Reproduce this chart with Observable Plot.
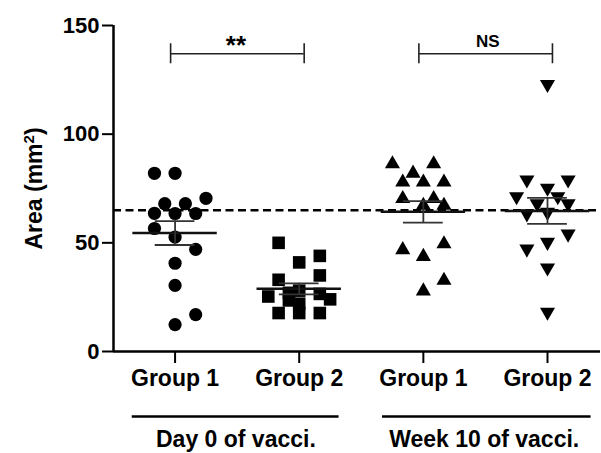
<!DOCTYPE html>
<html>
<head>
<meta charset="utf-8">
<script src="https://cdn.jsdelivr.net/npm/d3@7"></script>
<script src="https://cdn.jsdelivr.net/npm/@observablehq/plot@0.6"></script>
<style>
  html, body { margin: 0; padding: 0; background: #fff; }
  #chart { width: 601px; height: 453px; }
</style>
</head>
<body>
<div id="chart"></div>
<script>
// ---- data ----
const groupLabels = ["Group 1", "Group 2", "Group 1", "Group 2"];
const periodLabels = ["Day 0 of vacci.", "Week 10 of vacci."];
const yTicks = [0, 50, 100, 150];
const referenceLevel = 65;
const yLabelBase = "Area (mm";
const yLabelSup = "2";
const sigLabels = ["**", "NS"];

// values (mm²) and their lane (column) in the scatter
const day0Group1 = [82, 82, 70.5, 68, 68, 63.6, 63.5, 63.5, 56.6, 52.6, 47, 40.6, 30.4, 17, 12.4];
const day0Group1Lane = [-2, 0, 3, -1, 1, -2, 0, 2, -2, 0, 2, 0, 0, 2, 0];

const day0Group2 = [50, 44, 41, 35, 33, 28, 27, 26.5, 25.3, 24, 23.5, 22, 17.7, 17.7, 17.7];
const day0Group2Lane = [-2, 2, 0, 2, -2, 0, -1, 2, -3, 3, -1, 0, -2, 0, 2];

const week10Group1 = [86.3, 86.3, 82, 77.9, 77.9, 77.9, 70.3, 70.3, 67.2, 67.2, 46.8, 49.5, 43.7, 32.7, 27.8];
const week10Group1Lane = [-3, 1, -1, -2, 0, 2, -2, 1, 0, 2, -2, 2, 0, 2, 0];

const week10Group2 = [122.9, 79, 79, 75.2, 71.3, 71.3, 68, 68, 63.4, 64.1, 54.1, 47.2, 50.3, 38.5, 18.1];
const week10Group2Lane = [0, -2, 2, 0, -3, 1, -1, 2, -2, 0, 2, -2, 0, 0, 0];

// ---- build tables ----
const triangleDown = {
  draw(context, size) {
    const y = -Math.sqrt(size / (Math.sqrt(3) * 3));
    context.moveTo(0, -y * 2);
    context.lineTo(-Math.sqrt(3) * y, y);
    context.lineTo(Math.sqrt(3) * y, y);
    context.closePath();
  }
};
const groups = [
  {values: day0Group1, lanes: day0Group1Lane, symbol: "circle", r: 6.6},
  {values: day0Group2, lanes: day0Group2Lane, symbol: "square", r: 7.1},
  {values: week10Group1, lanes: week10Group1Lane, symbol: "triangle", r: 5.6},
  {values: week10Group2, lanes: week10Group2Lane, symbol: triangleDown, r: 5.6}
];
const laneWidth = 0.083;
const points = groups.map((gr, g) => gr.values.map((v, i) => ({g, value: v, x: g + gr.lanes[i] * laneWidth})));
const stats = groups.map((gr, g) => {
  const m = d3.mean(gr.values);
  const sem = d3.deviation(gr.values) / Math.sqrt(gr.values.length);
  return {g, mean: m, lo: m - sem, hi: m + sem};
});
const periods = [
  {label: periodLabels[0], x1: -0.345, x2: 1.321, cx: 0.49},
  {label: periodLabels[1], x1: 1.671, x2: 3.351, cx: 2.49}
];
const brackets = [
  {label: sigLabels[0], a: 0, b: 1, y: 137},
  {label: sigLabels[1], a: 2, b: 3, y: 137}
];

const font = "'Liberation Sans', Arial, Helvetica, sans-serif";

const marks = [
  Plot.ruleY([referenceLevel], {strokeDasharray: "8,4.5", strokeWidth: 2.5, stroke: "#000"}),
  ...groups.map((gr, g) => Plot.dot(points[g], {x: "x", y: "value", symbol: () => gr.symbol, r: gr.r, fill: "#000", stroke: "none"})),
  // mean
  Plot.ruleY(stats, {y: "mean", x1: d => d.g - 0.34, x2: d => d.g + 0.34, strokeWidth: 2.5, stroke: "#111"}),
  // SEM
  Plot.ruleX(stats, {x: "g", y1: "lo", y2: "hi", strokeWidth: 1.8, stroke: "#333"}),
  Plot.ruleY(stats, {y: "hi", x1: d => d.g - 0.16, x2: d => d.g + 0.16, strokeWidth: 1.8, stroke: "#333"}),
  Plot.ruleY(stats, {y: "lo", x1: d => d.g - 0.16, x2: d => d.g + 0.16, strokeWidth: 1.8, stroke: "#333"}),
  // axes lines
  Plot.ruleY([0], {strokeWidth: 2.5, stroke: "#000"}),
  Plot.ruleX([-0.496], {y1: 0, y2: 150, strokeWidth: 2.5, stroke: "#000"}),
  Plot.axisY({ticks: yTicks, tickSize: 11, tickPadding: 3, fontSize: 22, fontWeight: "bold", fontFamily: font, strokeWidth: 2, label: null}),
  Plot.axisX({ticks: [0, 1, 2, 3], tickFormat: i => groupLabels[i], tickSize: 12, tickPadding: 6, fontSize: 23, fontWeight: "bold", fontFamily: font, strokeWidth: 2, label: null}),
  // y label: base text, superscript, closing paren (rotated, stacked along the left margin)
  Plot.text([yLabelBase + yLabelSup + ")"], {text: d => d, frameAnchor: "left", dx: -79, rotate: -90, textAnchor: "middle", lineAnchor: "middle", fontSize: 23, fontWeight: "bold", fontFamily: font, fill: "#000"}),
  // significance brackets
  Plot.ruleY(brackets, {y: "y", x1: d => d.a - 0.036, x2: d => d.b + 0.04, strokeWidth: 1.6, stroke: "#222"}),
  Plot.ruleX(brackets, {x: d => d.a - 0.036, y1: d => d.y - 4.6, y2: d => d.y + 4.6, strokeWidth: 1.6, stroke: "#222"}),
  Plot.ruleX(brackets, {x: d => d.b + 0.04, y1: d => d.y - 4.6, y2: d => d.y + 4.6, strokeWidth: 1.6, stroke: "#222"}),
  Plot.text(brackets.slice(0, 1), {x: d => (d.a + d.b) / 2 - 0.01, y: 136.8, text: "label", lineAnchor: "bottom", fontSize: 26, fontWeight: "bold", fontFamily: font, fill: "#000"}),
  Plot.text(brackets.slice(1), {x: d => (d.a + d.b) / 2 + 0.02, y: 140, text: "label", lineAnchor: "bottom", fontSize: 17, fontWeight: "bold", fontFamily: font, fill: "#000"}),
  // period underline + labels
  Plot.ruleY(periods, {y: 0, x1: "x1", x2: "x2", dy: 65, strokeWidth: 2.5, stroke: "#000"}),
  Plot.text(periods, {x: "cx", y: 0, text: "label", dy: 95, lineAnchor: "bottom", fontSize: 23, fontWeight: "bold", fontFamily: font, fill: "#000"})
];

const chart = Plot.plot({
  width: 601,
  height: 453,
  marginTop: 25,
  marginBottom: 102,
  marginLeft: 113,
  marginRight: 1,
  style: {fontFamily: font, background: "#fff", color: "#000", overflow: "visible"},
  x: {type: "linear", domain: [-0.496, 3.427], axis: null},
  y: {domain: [0, 150], axis: null},
  marks
});
// turn the "2" of the y label into a real superscript
const full = yLabelBase + yLabelSup + ")";
for (const el of chart.querySelectorAll("text")) {
  if (el.textContent.trim() === full) {
    while (el.firstChild) el.removeChild(el.firstChild);
    const ns = "http://www.w3.org/2000/svg";
    const a = document.createElementNS(ns, "tspan");
    a.textContent = yLabelBase;
    const b = document.createElementNS(ns, "tspan");
    b.setAttribute("font-size", "15");
    b.setAttribute("dy", "-8");
    b.textContent = yLabelSup;
    const c = document.createElementNS(ns, "tspan");
    c.setAttribute("dy", "8");
    c.textContent = ")";
    el.append(a, b, c);
  }
}
document.getElementById("chart").appendChild(chart);
</script>
</body>
</html>
